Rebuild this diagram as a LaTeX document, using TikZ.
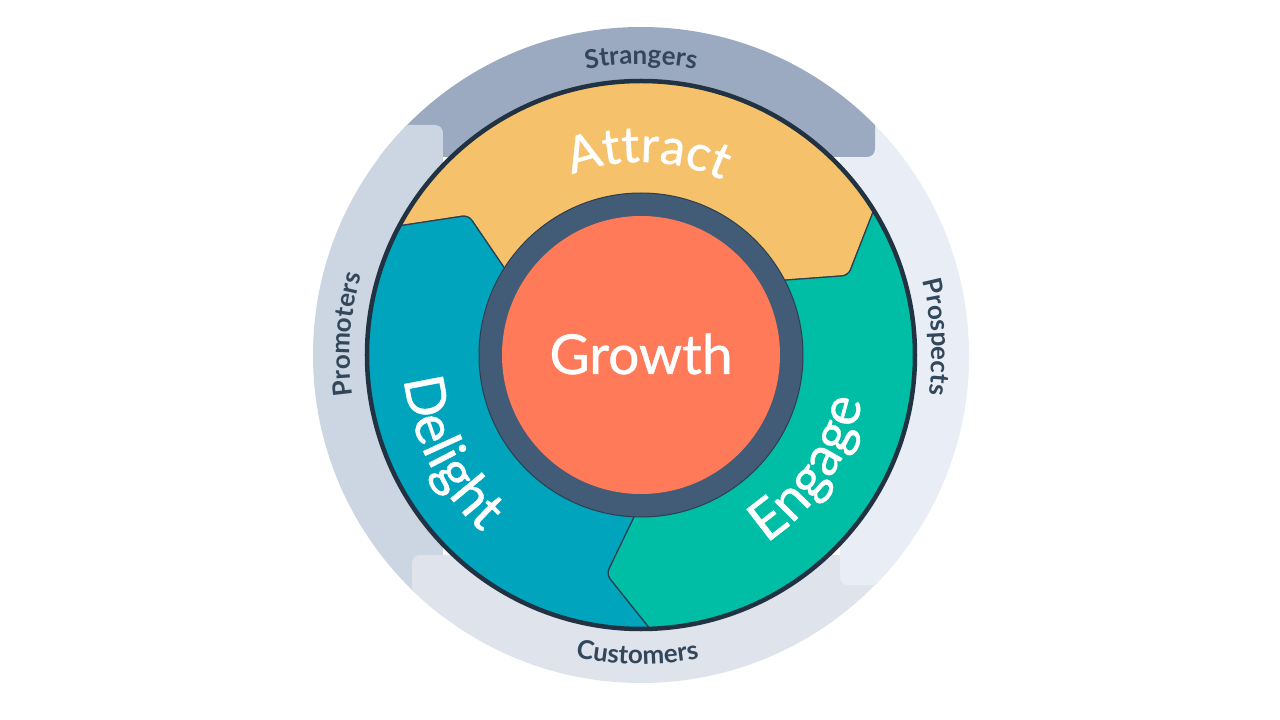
\documentclass[tikz,border=0pt]{standalone}
\usepackage{fontspec}
\setmainfont{Lato}
\newfontfamily\medfont{Lato}[FakeBold=0.8]
\usetikzlibrary{decorations.text}
\definecolor{attractc}{HTML}{F5C26B}
\definecolor{engagec}{HTML}{00BDA5}
\definecolor{delightc}{HTML}{00A4BD}
\definecolor{slatec}{HTML}{425B76}
\definecolor{growthc}{HTML}{FF7A59}
\definecolor{ringc}{HTML}{213343}
\definecolor{segline}{HTML}{2D3E50}
\definecolor{labc}{HTML}{33475B}
\definecolor{strangersc}{HTML}{9BAAC1}
\definecolor{prospectsc}{HTML}{E9EEF6}
\definecolor{customersc}{HTML}{DFE3EC}
\definecolor{promotersc}{HTML}{CCD5E2}
\newcommand\outerfmt{\fontsize{26}{26}\selectfont\bfseries\color{labc}}
\newcommand\attractfmt{\medfont\fontsize{50}{50}\selectfont\color{white}}
\newcommand\sidefmt{\medfont\fontsize{55}{55}\selectfont\color{white}}
\tikzset{
  seg/.style={draw=segline, line width=1.2pt, rounded corners=6pt},
  band/.style={rounded corners=8pt},
  outerlab/.style={decorate, decoration={text along path, text align=center, text={|\outerfmt|#1}}},
  attractlab/.style={decorate, decoration={text along path, text align=center, text={|\attractfmt|#1}}},
  sidelab/.style={decorate, decoration={text along path, text align=center, text={|\sidefmt|#1}}}
}
\begin{document}
\begin{tikzpicture}[x=1pt,y=1pt]
\useasboundingbox (-641,-365) rectangle (639,355);
\fill[white] (-641,-365) rectangle (639,355);
% outer bands
\begin{scope}
\clip (0,0) circle[radius=328];
\fill[prospectsc, band] (199,-230) rectangle (420,420);
\fill[strangersc, band] (-420,198) rectangle (234,420);
\fill[promotersc, band] (-420,-420) rectangle (-198,230);
\fill[customersc, band] (-229,-420) rectangle (420,-200);
\fill[prospectsc, band] (199,-230) rectangle (420,0);
\end{scope}
% inner segments
\begin{scope}
\clip (0,0) circle[radius=275];
\path[seg, fill=attractc] (153.5:285) -- (141:222) -- (149.5:150) arc[start angle=149.5, end angle=29.5, radius=150] -- (21:222) -- (33.5:285) arc[start angle=33.5, end angle=153.5, radius=285] -- cycle;
\path[seg, fill=engagec] (33.5:285) -- (21:222) -- (29.5:150) arc[start angle=29.5, end angle=-90.5, radius=150] -- (-99:222) -- (-86.5:285) arc[start angle=-86.5, end angle=33.5, radius=285] -- cycle;
\path[seg, fill=delightc] (-86.5:285) -- (-99:222) -- (-90.5:150) arc[start angle=-90.5, end angle=-210.5, radius=150] -- (-219:222) -- (-206.5:285) arc[start angle=-206.5, end angle=-86.5, radius=285] -- cycle;
\end{scope}
\draw[ringc, line width=4.5pt] (0,0) circle[radius=274];
% growth
\fill[slatec, draw=segline, line width=1pt] (0,0) circle[radius=162];
\fill[growthc] (0,0) circle[radius=139];
\node[anchor=base, text=white, font=\medfont\fontsize{55}{55}\selectfont, inner sep=0pt] (growth) at (0,-19) {Growth};
% labels
\path[attractlab=Attract] (128:193) arc[start angle=128, end angle=48, radius=193];
\path[sidelab=Engage] (-79:226) arc[start angle=-79, end angle=11, radius=226];
\path[sidelab=Delight] (162:238) arc[start angle=162, end angle=252, radius=238];
\path[outerlab=Strangers] (130:291) arc[start angle=130, end angle=50, radius=291];
\path[outerlab=Prospects] (43.5:291) arc[start angle=43.5, end angle=-36.5, radius=291];
\path[outerlab=Customers] (229.3:309) arc[start angle=229.3, end angle=309.3, radius=309];
\path[outerlab=Promoters] (216:291) arc[start angle=216, end angle=136, radius=291];
\end{tikzpicture}
\end{document}
